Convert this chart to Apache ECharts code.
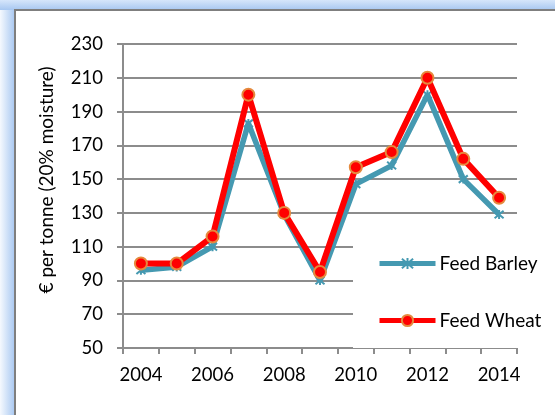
<!DOCTYPE html>
<html>
<head>
<meta charset="utf-8">
<script src="https://cdn.jsdelivr.net/npm/echarts@6/dist/echarts.min.js"></script>
<style>
  html, body { margin: 0; padding: 0; background: #ffffff; }
  #chart { width: 555px; height: 415px; }
</style>
</head>
<body>
<div id="chart"></div>
<script>
// Feed grain prices, € per tonne at 20% moisture
const years = ['2004', '2005', '2006', '2007', '2008', '2009', '2010', '2011', '2012', '2013', '2014'];
const feedBarley = [96, 98, 110, 183, 129, 90, 147, 158, 200, 150, 129];
const feedWheat = [100, 100, 116, 200, 130, 95, 157, 166, 210, 162, 139];
const yTicks = { min: 50, max: 230, interval: 20 };

const FONT = 'Lato';
const TEAL = '#4599b1';
const RED = '#ff0000';
const ORANGE = '#e58a3e';
const GRID_GREY = '#8c8c8c';

const chart = echarts.init(document.getElementById('chart'), null, { renderer: 'canvas' });

const starPath = 'path://M0,0L10,10M10,0L0,10M5,-1L5,11';

chart.setOption({
  backgroundColor: '#ffffff',
  animation: false,
  graphic: {
    elements: [
      // soft blue glow along the left edge
      {
        type: 'rect', z: -20, silent: true,
        shape: { x: 0, y: 0, width: 15, height: 415 },
        style: {
          fill: new echarts.graphic.LinearGradient(0, 0, 1, 0, [
            { offset: 0, color: '#f5f9fe' },
            { offset: 1, color: '#a7c7f1' }
          ])
        }
      },
      // soft blue glow along the top edge
      {
        type: 'rect', z: -20, silent: true,
        shape: { x: 0, y: 0, width: 555, height: 10 },
        style: {
          fill: new echarts.graphic.LinearGradient(0, 0, 0, 1, [
            { offset: 0, color: '#d6e6fb' },
            { offset: 1, color: '#a7c7f1' }
          ])
        }
      },
      // chart panel with grey frame
      {
        type: 'rect', z: -15, silent: true,
        shape: { x: 15, y: 10, width: 560, height: 420 },
        style: { fill: '#ffffff', stroke: '#7f7f7f', lineWidth: 2 }
      },
      // y-axis title
      {
        type: 'text', z: 50, silent: true,
        x: 47, y: 180, rotation: Math.PI / 2,
        style: {
          text: '€ per tonne (20% moisture)',
          font: '19px ' + FONT,
          fill: '#000000',
          align: 'center',
          verticalAlign: 'middle'
        }
      }
    ]
  },
  grid: { left: 123, right: 38, top: 44, bottom: 67, containLabel: false },
  legend: {
    orient: 'vertical',
    left: 353,
    top: 232,
    padding: [22, 10, 18, 24],
    backgroundColor: '#ffffff',
    itemWidth: 56,
    itemHeight: 14,
    itemGap: 38,
    lineStyle: { width: 5 },
    textStyle: { fontFamily: FONT, fontSize: 19, color: '#000000', padding: [0, 0, 0, -1] },
    data: ['Feed Barley', 'Feed Wheat']
  },
  xAxis: {
    type: 'category',
    data: years,
    boundaryGap: true,
    axisLine: { show: true, lineStyle: { color: GRID_GREY, width: 2 } },
    axisTick: { show: true, interval: 0, length: 6, lineStyle: { color: GRID_GREY, width: 2 } },
    axisLabel: { interval: 1, margin: 18, fontFamily: FONT, fontSize: 18.5, color: '#000000' },
    splitLine: { show: false }
  },
  yAxis: {
    type: 'value',
    min: yTicks.min,
    max: yTicks.max,
    interval: yTicks.interval,
    axisLine: { show: true, lineStyle: { color: GRID_GREY, width: 2 } },
    axisTick: { show: true, length: 6, lineStyle: { color: GRID_GREY, width: 2 } },
    axisLabel: { margin: 20, fontFamily: FONT, fontSize: 18.5, color: '#000000' },
    splitLine: { show: true, lineStyle: { color: GRID_GREY, width: 2 } }
  },
  series: [
    {
      name: 'Feed Barley',
      type: 'line',
      data: feedBarley,
      z: 2,
      symbol: starPath,
      symbolSize: 9,
      showAllSymbol: true,
      lineStyle: { color: TEAL, width: 5.5 },
      itemStyle: { color: TEAL, borderColor: TEAL, borderWidth: 2 }
    },
    {
      name: 'Feed Wheat',
      type: 'line',
      data: feedWheat,
      z: 3,
      symbol: 'circle',
      symbolSize: 12,
      showAllSymbol: true,
      lineStyle: { color: RED, width: 6 },
      itemStyle: { color: RED, borderColor: ORANGE, borderWidth: 2 }
    }
  ]
});
</script>
</body>
</html>
